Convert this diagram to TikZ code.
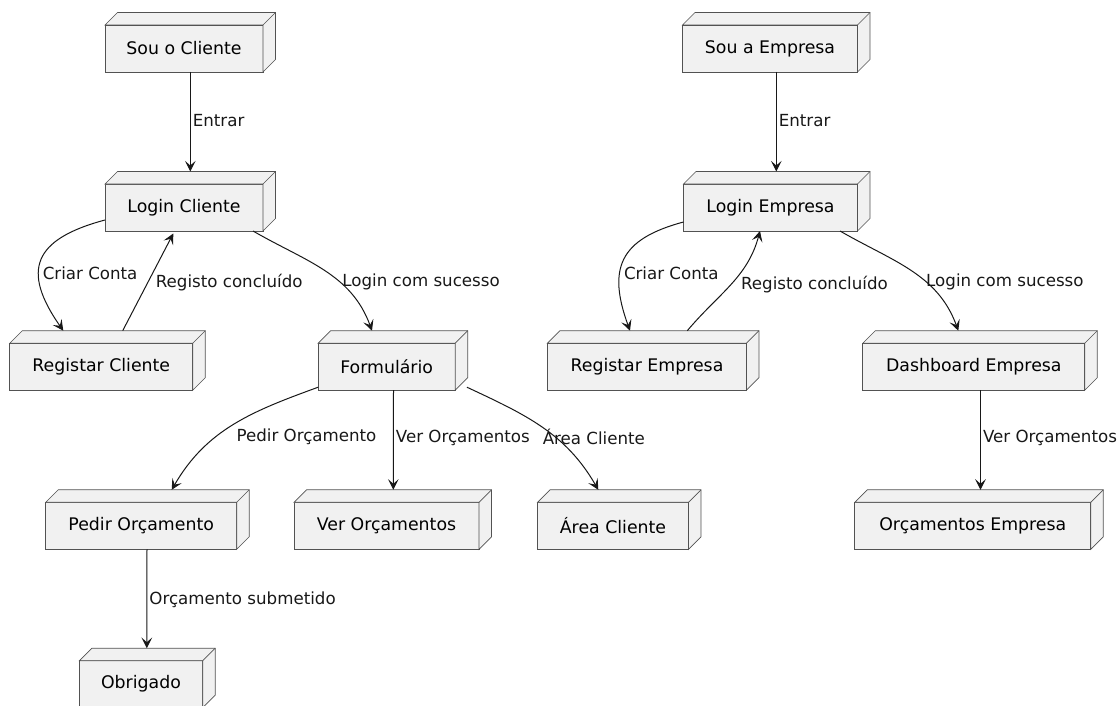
\documentclass[tikz,border=0pt]{standalone}
\usepackage{fontspec}
\setmainfont{DejaVu Sans}
\usetikzlibrary{arrows.meta}
\definecolor{nodefill}{HTML}{F1F1F1}
\definecolor{nodeline}{HTML}{181818}

\begin{document}
\begin{tikzpicture}[x=0.75pt, y=0.75pt,
  box/.style={draw=nodeline!75, line width=0.5pt, fill=nodefill, minimum height=35.25pt, inner sep=0pt, outer sep=0pt, font=\fontsize{13}{15}\selectfont},
  flow/.style={draw=nodeline, line width=0.75pt, -{Stealth[length=8pt,width=8pt,inset=3.5pt]}},
  lbl/.style={font=\fontsize{12.5}{14}\selectfont, text=nodeline, inner sep=1.5pt}]

\useasboundingbox (0,0) rectangle (1120,-706);

% client side
\node[box, minimum width=118.5pt] (souc) at (184,-48.5) {Sou o Cliente};
\node[box, minimum width=118.5pt] (loginc) at (184,-207.5) {Login Cliente};
\node[box, minimum width=137.25pt] (regc) at (101.3,-366.7) {Registar Cliente};
\node[box, minimum width=102.75pt] (form) at (386.7,-366.7) {Formulário};
\node[box, minimum width=143.25pt] (pedir) at (141.2,-525.8) {Pedir Orçamento};
\node[box, minimum width=138.75pt] (verorc) at (386.5,-525.8) {Ver Orçamentos};
\node[box, minimum width=113.25pt] (areac) at (613,-525.8) {Área Cliente};
\node[box, minimum width=92.5pt] (obrig) at (141,-684.2) {Obrigado};

% company side
\node[box, minimum width=131.25pt] (soue) at (770,-48.5) {Sou a Empresa};
\node[box, minimum width=130.5pt] (logine) at (770.5,-207.5) {Login Empresa};
\node[box, minimum width=149.25pt] (rege) at (647,-366.7) {Registar Empresa};
\node[box, minimum width=166.5pt] (dash) at (973.8,-366.7) {Dashboard Empresa};
\node[box, minimum width=177pt] (orce) at (972.8,-525.8) {Orçamentos Empresa};

% top and side faces
\foreach \n in {souc,loginc,regc,form,pedir,verorc,areac,obrig,soue,logine,rege,dash,orce}{
  \filldraw[draw=nodeline!75, line width=0.5pt, fill=nodefill]
    (\n.north west) -- ++(12.5,12.5) -- ([shift={(12.5,12.5)}]\n.north east)
    -- ([shift={(12.5,12.5)}]\n.south east) -- (\n.south east) -- (\n.north east) -- cycle;
  \draw[draw=nodeline!75, line width=0.5pt] (\n.north east) -- ++(12.5,12.5);
}

% client flows
\draw[flow] ([shift={(6.3,0)}]souc.south) -- node[lbl, anchor=west, pos=0.49] {Entrar} ([shift={(6.3,12.5)}]loginc.north);
\draw[flow] ([shift={(0,-12.5)}]loginc.west) to[out=195, in=125, looseness=1.6] node[lbl, anchor=west, pos=0.62, xshift=1pt] {Criar Conta} ([shift={(-38,12.5)}]regc.north);
\draw[flow] ([shift={(21.4,12.5)}]regc.north) -- node[lbl, anchor=west, pos=0.5, xshift=4pt] {Registo concluído} ([shift={(-10.7,-2.5)}]loginc.south);
\draw[flow] ([shift={(69,0)}]loginc.south) to[out=-30, in=110] node[lbl, anchor=west, pos=0.62, xshift=1pt] {Login com sucesso} ([shift={(-14.7,12.5)}]form.north);
\draw[flow] ([shift={(0,3)}]form.south west) to[out=200, in=60] node[lbl, anchor=west, pos=0.62, xshift=13pt] {Pedir Orçamento} ([shift={(30.5,12.5)}]pedir.north);
\draw[flow] ([shift={(6.8,0)}]form.south) -- node[lbl, anchor=west, pos=0.48] {Ver Orçamentos} ([shift={(6.8,12.5)}]verorc.north);
\draw[flow] ([shift={(11.7,3)}]form.south east) to[out=-25, in=120] node[lbl, anchor=west, pos=0.6, xshift=-11pt] {Área Cliente} ([shift={(-14.7,12.5)}]areac.north);
\draw[flow] ([shift={(5.8,0)}]pedir.south) -- node[lbl, anchor=west, pos=0.51] {Orçamento submetido} ([shift={(5.8,12.5)}]obrig.north);

% company flows
\draw[flow] ([shift={(6.3,0)}]soue.south) -- node[lbl, anchor=west, pos=0.49] {Entrar} ([shift={(5.8,12.5)}]logine.north);
\draw[flow] ([shift={(0,-14.5)}]logine.west) to[out=195, in=110, looseness=1.4] node[lbl, anchor=west, pos=0.62, xshift=1pt] {Criar Conta} ([shift={(-17,12.5)}]rege.north);
\draw[flow] ([shift={(40.3,12.5)}]rege.north) to[out=50, in=-105] node[lbl, anchor=west, pos=0.5, xshift=6pt] {Registo concluído} ([shift={(-10.5,0)}]logine.south);
\draw[flow] ([shift={(69.5,0)}]logine.south) to[out=-30, in=110] node[lbl, anchor=west, pos=0.62, xshift=-1pt] {Login com sucesso} ([shift={(-15.5,12.5)}]dash.north);
\draw[flow] ([shift={(6.7,0)}]dash.south) -- node[lbl, anchor=west, pos=0.48] {Ver Orçamentos} ([shift={(7.7,12.5)}]orce.north);
\end{tikzpicture}
\end{document}
